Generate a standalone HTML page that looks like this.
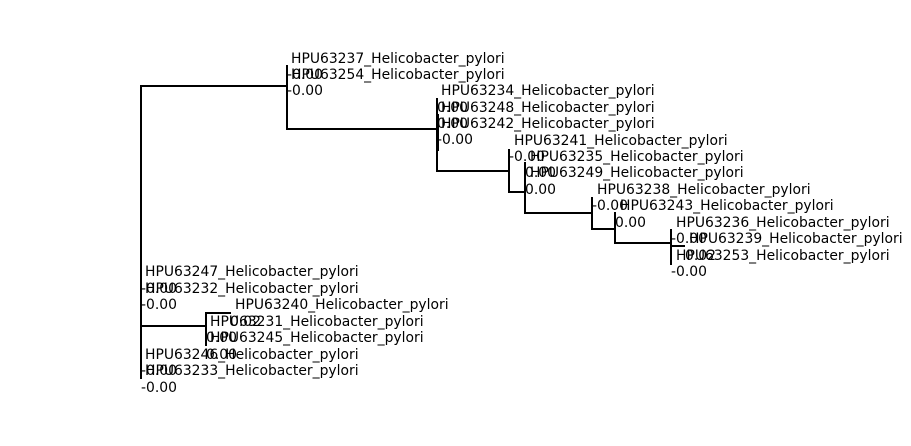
<!DOCTYPE html>
<html><head><meta charset="utf-8"><style>
html,body{margin:0;padding:0;background:#fff}
svg text{font-family:"DejaVu Sans","Liberation Sans",sans-serif;font-size:13.9px;fill:#000;dominant-baseline:central}
</style></head><body>
<svg width="911" height="441" viewBox="0 0 911 441" xmlns="http://www.w3.org/2000/svg">
<g stroke="#000" stroke-width="2" fill="none" stroke-linecap="square">
<line x1="141" y1="86" x2="141" y2="378"/>
<line x1="141" y1="86" x2="287" y2="86"/>
<line x1="141" y1="326" x2="206" y2="326"/>
<line x1="287" y1="66" x2="287" y2="129"/>
<line x1="287" y1="129" x2="437" y2="129"/>
<line x1="437" y1="99" x2="437" y2="171"/>
<line x1="438" y1="115" x2="438" y2="150"/>
<line x1="437" y1="171" x2="509" y2="171"/>
<line x1="509" y1="150" x2="509" y2="192"/>
<line x1="509" y1="192" x2="525" y2="192"/>
<line x1="525" y1="163" x2="525" y2="213"/>
<line x1="525" y1="213" x2="592" y2="213"/>
<line x1="592" y1="198" x2="592" y2="229"/>
<line x1="592" y1="229" x2="615" y2="229"/>
<line x1="615" y1="213" x2="615" y2="243"/>
<line x1="615" y1="243" x2="671" y2="243"/>
<line x1="671" y1="230" x2="671" y2="264"/>
<line x1="671" y1="246" x2="684" y2="246"/>
<line x1="206" y1="313" x2="206" y2="345"/>
<line x1="206" y1="313" x2="230" y2="313"/>
</g>
<g transform="translate(0,1)">
<text x="291" y="58">HPU63237_Helicobacter_pylori</text>
<text x="291" y="74">HPU63254_Helicobacter_pylori</text>
<text x="287" y="74">-0.00</text>
<text x="287" y="90">-0.00</text>
<text x="441" y="90">HPU63234_Helicobacter_pylori</text>
<text x="437" y="107">0.00</text>
<text x="441" y="107">HPU63248_Helicobacter_pylori</text>
<text x="437" y="123">0.00</text>
<text x="441" y="123">HPU63242_Helicobacter_pylori</text>
<text x="437" y="139">-0.00</text>
<text x="514" y="140">HPU63241_Helicobacter_pylori</text>
<text x="509" y="156">-0.00</text>
<text x="530" y="156">HPU63235_Helicobacter_pylori</text>
<text x="525" y="172">0.00</text>
<text x="530" y="172">HPU63249_Helicobacter_pylori</text>
<text x="525" y="189">0.00</text>
<text x="597" y="189">HPU63238_Helicobacter_pylori</text>
<text x="592" y="205">-0.00</text>
<text x="620" y="205">HPU63243_Helicobacter_pylori</text>
<text x="615" y="222">0.00</text>
<text x="676" y="222">HPU63236_Helicobacter_pylori</text>
<text x="671" y="238">-0.00</text>
<text x="689" y="238">HPU63239_Helicobacter_pylori</text>
<text x="676" y="255">HPU63253_Helicobacter_pylori</text>
<text x="685" y="255">0.02</text>
<text x="671" y="271">-0.00</text>
<text x="145" y="271">HPU63247_Helicobacter_pylori</text>
<text x="141" y="288">-0.00</text>
<text x="145" y="288">HPU63232_Helicobacter_pylori</text>
<text x="141" y="304">-0.00</text>
<text x="235" y="304">HPU63240_Helicobacter_pylori</text>
<text x="210" y="321">HPU63231_Helicobacter_pylori</text>
<text x="230" y="321">0.02</text>
<text x="206" y="337">0.00</text>
<text x="210" y="337">HPU63245_Helicobacter_pylori</text>
<text x="145" y="354">HPU63246_Helicobacter_pylori</text>
<text x="206" y="354">0.00</text>
<text x="141" y="370">-0.00</text>
<text x="145" y="370">HPU63233_Helicobacter_pylori</text>
<text x="141" y="387">-0.00</text>
</g>
</svg>
</body></html>
